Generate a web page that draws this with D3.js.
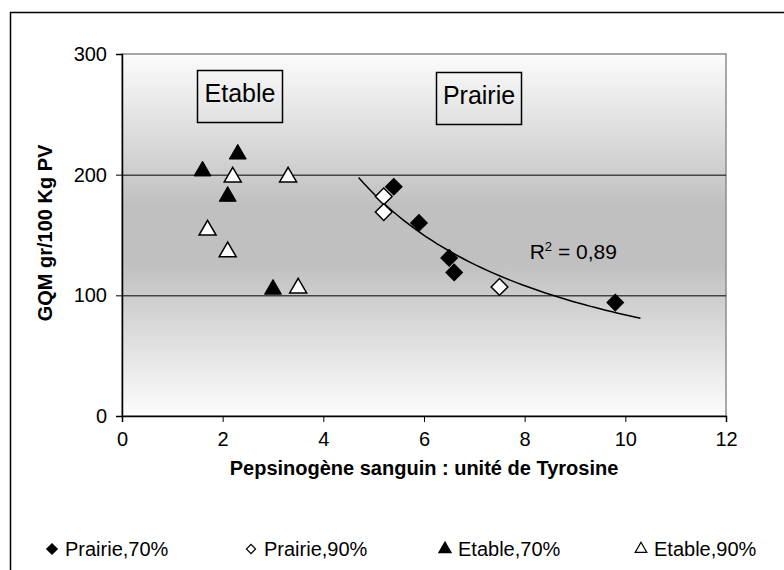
<!DOCTYPE html>
<meta charset="utf-8">
<style>
  body { margin: 0; background: white; }
  text { font-family: "Liberation Sans", Arial, sans-serif; fill: #000; }
  .axis path, .axis line { stroke: #000; }
  .axis text { font-size: 20px; }
  .title { font-size: 20px; font-weight: bold; }
</style>
<body>
<script src="https://d3js.org/d3.v7.min.js"></script>
<script>

// data
var prairie70X = [5.4, 5.9, 6.5, 6.6, 9.8];
var prairie70Y = [190, 160, 131, 119, 94];
var prairie90X = [5.2, 5.2, 7.5];
var prairie90Y = [182, 169, 107];
var etable70X = [1.6, 2.1, 2.3, 3.0];
var etable70Y = [205, 184, 219, 107];
var etable90X = [1.7, 2.1, 2.2, 3.3, 3.5];
var etable90Y = [156, 138, 200, 200, 108];

var xTicks = [0, 2, 4, 6, 8, 10, 12];
var yTicks = [0, 100, 200, 300];
var trendRange = [4.7, 10.3];
var seriesNames = ["Prairie,70%", "Prairie,90%", "Etable,70%", "Etable,90%"];

// set the dimensions and margins of the graph
var margin = {top: 54, right: 58, bottom: 154, left: 122},
    width = 784 - margin.left - margin.right,
    height = 570 - margin.top - margin.bottom;

var svg = d3.select("body").append("svg")
    .attr("width", 784)
    .attr("height", 570);

// outer chart border (runs off the page on the right and bottom)
svg.append("rect")
    .attr("x", 10.5).attr("y", 12.5)
    .attr("width", 800).attr("height", 600)
    .attr("fill", "white")
    .attr("stroke", "#000")
    .attr("stroke-width", 1.5);

var grad = svg.append("defs").append("linearGradient")
    .attr("id", "bg").attr("x1", 0).attr("y1", 0).attr("x2", 0).attr("y2", 1);
[[0, "#fcfcfc"], [0.33, "#cdcdcd"], [0.42, "#c0c0c0"], [0.58, "#c0c0c0"], [0.67, "#cdcdcd"], [1, "#fdfdfd"]]
  .forEach(function(s) { grad.append("stop").attr("offset", s[0]).attr("stop-color", s[1]); });

var g = svg.append("g")
    .attr("transform", "translate(" + margin.left + "," + margin.top + ")");

var x = d3.scaleLinear().domain([0, 12]).range([0, width]);
var y = d3.scaleLinear().domain([0, 300]).range([height, 0]);

// plot area
g.append("rect")
    .attr("width", width).attr("height", height)
    .attr("fill", "url(#bg)")
    .attr("stroke", "#8c8c8c")
    .attr("stroke-width", 1.5);

// gridlines
g.selectAll(".grid")
    .data(yTicks.filter(function(d) { return d > 0 && d < 300; }))
    .enter().append("line")
    .attr("class", "grid")
    .attr("x1", 0).attr("x2", width)
    .attr("y1", function(d) { return y(d) + 0.5; })
    .attr("y2", function(d) { return y(d) + 0.5; })
    .attr("stroke", "#000");

// axes
var xAxis = g.append("g")
    .attr("class", "axis")
    .attr("transform", "translate(0," + height + ")")
    .call(d3.axisBottom(x).tickValues(xTicks).tickSize(6).tickPadding(10));

var yAxis = g.append("g")
    .attr("class", "axis")
    .call(d3.axisLeft(y).tickValues(yTicks).tickSize(6).tickPadding(9));

xAxis.select(".domain").attr("stroke-width", 1.5);
yAxis.select(".domain").attr("stroke-width", 1.5);

// axis titles
svg.append("text")
    .attr("class", "title")
    .attr("x", margin.left + width / 2)
    .attr("y", 475)
    .attr("text-anchor", "middle")
    .text("Pepsinog\u00e8ne sanguin : unit\u00e9 de Tyrosine");

svg.append("text")
    .attr("class", "title")
    .attr("transform", "translate(52," + (margin.top + height / 2 - 2) + ") rotate(-90)")
    .attr("text-anchor", "middle")
    .text("GQM gr/100 Kg PV");

// power trend line fitted on all the prairie points
var px = prairie70X.concat(prairie90X), py = prairie70Y.concat(prairie90Y);
var lx = px.map(Math.log), ly = py.map(Math.log);
var mx = d3.mean(lx), my = d3.mean(ly);
var b = d3.sum(lx, function(d, i) { return (d - mx) * (ly[i] - my); }) /
        d3.sum(lx, function(d) { return (d - mx) * (d - mx); });
var a = Math.exp(my - b * mx);
var trend = d3.range(0, 51).map(function(i) {
  var t = trendRange[0] + (trendRange[1] - trendRange[0]) * i / 50;
  return [t, a * Math.pow(t, b)];
});

g.append("path")
    .datum(trend)
    .attr("fill", "none")
    .attr("stroke", "#000")
    .attr("stroke-width", 1.5)
    .attr("d", d3.line()
      .x(function(d) { return x(d[0]); })
      .y(function(d) { return y(d[1]); }));

// markers
var diamond = d3.symbol().type(d3.symbolSquare).size(140);
var triangle = d3.symbol().type(d3.symbolTriangle).size(125);

function drawSeries(xs, ys, sym, filled) {
  g.append("g").selectAll("path")
    .data(xs.map(function(d, i) { return [d, ys[i]]; }))
    .enter().append("path")
    .attr("d", sym)
    .attr("transform", function(d) {
      // diamonds are rotated squares, triangles are shifted so their box is centred
      return sym === diamond
        ? "translate(" + x(d[0]) + "," + y(d[1]) + ") rotate(45)"
        : "translate(" + x(d[0]) + "," + (y(d[1]) + 2.4) + ")";
    })
    .attr("fill", filled ? "#000" : "#fff")
    .attr("stroke", "#000")
    .attr("stroke-width", filled ? 1 : 1.5);
}

drawSeries(etable90X, etable90Y, triangle, false);
drawSeries(etable70X, etable70Y, triangle, true);
drawSeries(prairie90X, prairie90Y, diamond, false);
drawSeries(prairie70X, prairie70Y, diamond, true);

// R² label
var r2 = g.append("text")
    .attr("x", x(8.1))
    .attr("y", y(130))
    .style("font-size", "21px");
r2.append("tspan").text("R");
r2.append("tspan").attr("dy", -8).style("font-size", "13px").text("2");
r2.append("tspan").attr("dy", 8).text(" = 0,89");

// text boxes
[["Etable", 197, 70, 85, 52], ["Prairie", 436, 72, 85, 52]].forEach(function(bx) {
  svg.append("rect")
      .attr("x", bx[1] + 0.5).attr("y", bx[2] + 0.5)
      .attr("width", bx[3]).attr("height", bx[4])
      .attr("fill", "none").attr("stroke", "#000").attr("stroke-width", 1.5);
  svg.append("text")
      .attr("x", bx[1] + bx[3] / 2 + 0.5)
      .attr("y", bx[2] + 32)
      .attr("text-anchor", "middle")
      .style("font-size", "25px")
      .text(bx[0]);
});

// legend
var legendX = [52, 251, 445, 641];
var legSyms = [
  {sym: d3.symbol().type(d3.symbolSquare).size(55), rot: 45, fill: "#000"},
  {sym: d3.symbol().type(d3.symbolSquare).size(42), rot: 45, fill: "#fff"},
  {sym: d3.symbol().type(d3.symbolTriangle).size(65), rot: 0, fill: "#000"},
  {sym: d3.symbol().type(d3.symbolTriangle).size(58), rot: 0, fill: "#fff"}
];
var legend = svg.selectAll(".legend")
    .data(seriesNames)
    .enter().append("g")
    .attr("class", "legend")
    .attr("transform", function(d, i) { return "translate(" + legendX[i] + ",549)"; });

legend.append("path")
    .attr("d", function(d, i) { return legSyms[i].sym(); })
    .attr("transform", function(d, i) { return "rotate(" + legSyms[i].rot + ")"; })
    .attr("fill", function(d, i) { return legSyms[i].fill; })
    .attr("stroke", "#000")
    .attr("stroke-width", 1.2);

legend.append("text")
    .attr("x", 13)
    .attr("y", 7)
    .style("font-size", "20px")
    .text(function(d) { return d; });

</script>
</body>
